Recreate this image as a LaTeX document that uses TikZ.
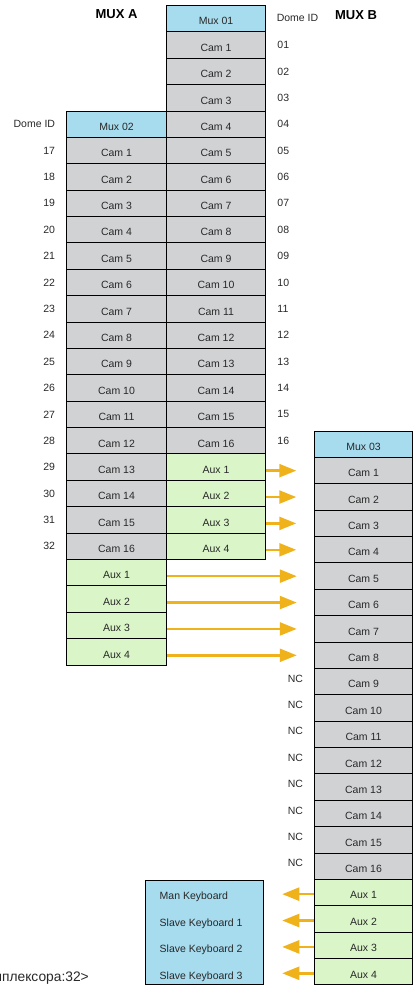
\documentclass[tikz,border=0pt]{standalone}
\usepackage{fontspec}
\setmainfont{Liberation Sans}
\usetikzlibrary{arrows.meta,calc}

\definecolor{camgrey}{RGB}{209,210,212}
\definecolor{muxblue}{RGB}{167,219,238}
\definecolor{auxgreen}{RGB}{218,246,201}
\definecolor{feedorange}{RGB}{239,178,27}
\definecolor{inkgrey}{RGB}{40,40,40}

\newcommand\twodig[1]{\ifnum#1<10 0\fi#1}

\begin{document}
\begin{tikzpicture}[x=1pt,y=-1pt,
  every node/.style={text=inkgrey,font=\fontsize{10.5}{12}\selectfont},
  cell/.style={draw=black,line width=1pt,rectangle,minimum width=99.5pt,
    minimum height=26.38pt,inner sep=0pt,text height=12.5pt,text depth=0pt},
  cellB/.style={cell,minimum width=98.5pt},
  camcell/.style={fill=camgrey},
  muxcell/.style={fill=muxblue},
  auxcell/.style={fill=auxgreen},
  idlabel/.style={inner sep=0pt},
  heading/.style={inner sep=0pt,font=\bfseries\fontsize{13}{15}\selectfont,text=black},
  feed/.style={draw=feedorange,line width=2.4pt,-{Triangle[length=17pt,width=13pt]}},
]
\useasboundingbox (0,0) rectangle (414,989);
\def\rh{26.38}

% headings
\node[heading] (hA) at (116.5,14) {MUX A};
\node[heading] (hB) at (356,15) {MUX B};

% Mux 01 column
\node[cell,muxcell] (a0) at (216,{5.5+0.5*\rh}) {Mux 01};
\foreach \i in {1,...,16}
  \node[cell,camcell] (a\i) at (216,{5.5+(\i+0.5)*\rh}) {Cam \i};
\foreach \i in {1,...,4}
  \node[cell,auxcell] (ax\i) at (216,{5.5+(\i+16.5)*\rh}) {Aux \i};

% Mux 02 column
\node[cell,muxcell] (b0) at (116.5,{5.5+4.5*\rh}) {Mux 02};
\foreach \i in {1,...,16}
  \node[cell,camcell] (b\i) at (116.5,{5.5+(\i+4.5)*\rh}) {Cam \i};
\foreach \i in {1,...,4}
  \node[cell,auxcell] (bx\i) at (116.5,{5.5+(\i+20.5)*\rh}) {Aux \i};

% Mux 03 column
\node[cellB,muxcell] (c0) at (363.5,{431+0.5*\rh}) {Mux 03};
\foreach \i in {1,...,16}
  \node[cellB,camcell] (c\i) at (363.5,{431+(\i+0.5)*\rh}) {Cam \i};
\foreach \i in {1,...,4}
  \node[cellB,auxcell] (cx\i) at (363.5,{431+(\i+16.5)*\rh}) {Aux \i};

% dome IDs
\node[idlabel] (idhA) at (297.5,18) {Dome ID};
\node[idlabel,anchor=east] (idhB) at ($(b0.west)+(-11,0)$) {Dome ID};
\foreach \i in {1,...,16}
  \node[idlabel,anchor=west] (ida\i) at ($(a\i.east)+(11,0)$) {\twodig{\i}};
\foreach \i in {1,...,16}
  \node[idlabel,anchor=east] (idb\i) at ($(b\i.west)+(-11,0)$) {\the\numexpr\i+16\relax};
\foreach \i in {9,...,16}
  \node[idlabel,anchor=east] (nc\i) at ($(c\i.west)+(-10.5,-3)$) {NC};

% keyboards
\node[draw=black,line width=1pt,fill=muxblue,minimum width=118pt,
  minimum height=104pt,inner sep=0pt] (kb) at (204,932) {};
\node[idlabel,anchor=base west] (kb1) at ($(kb.west |- cx1)+(15,7.2)$) {Man Keyboard};
\node[idlabel,anchor=base west] (kb2) at ($(kb.west |- cx2)+(15,7.2)$) {Slave Keyboard 1};
\node[idlabel,anchor=base west] (kb3) at ($(kb.west |- cx3)+(15,7.2)$) {Slave Keyboard 2};
\node[idlabel,anchor=base west] (kb4) at ($(kb.west |- cx4)+(15,7.6)$) {Slave Keyboard 3};

% aux feeds
\foreach \i in {1,...,4}
  \draw[feed] ($(ax\i.east)+(0,3.5)$) -- ++(30,0);
\foreach \i in {1,...,4}
  \draw[feed] ($(bx\i.east)+(0,3.5)$) -- ++(130,0);
\foreach \i in {1,...,4}
  \draw[feed] ($(cx\i.west)+(0,1.5)$) -- ++(-31.5,0);

% footnote
\node[idlabel,anchor=base east,font=\fontsize{13.8}{16}\selectfont] (note) at (89,981) {иплексора:32>};
\end{tikzpicture}
\end{document}
